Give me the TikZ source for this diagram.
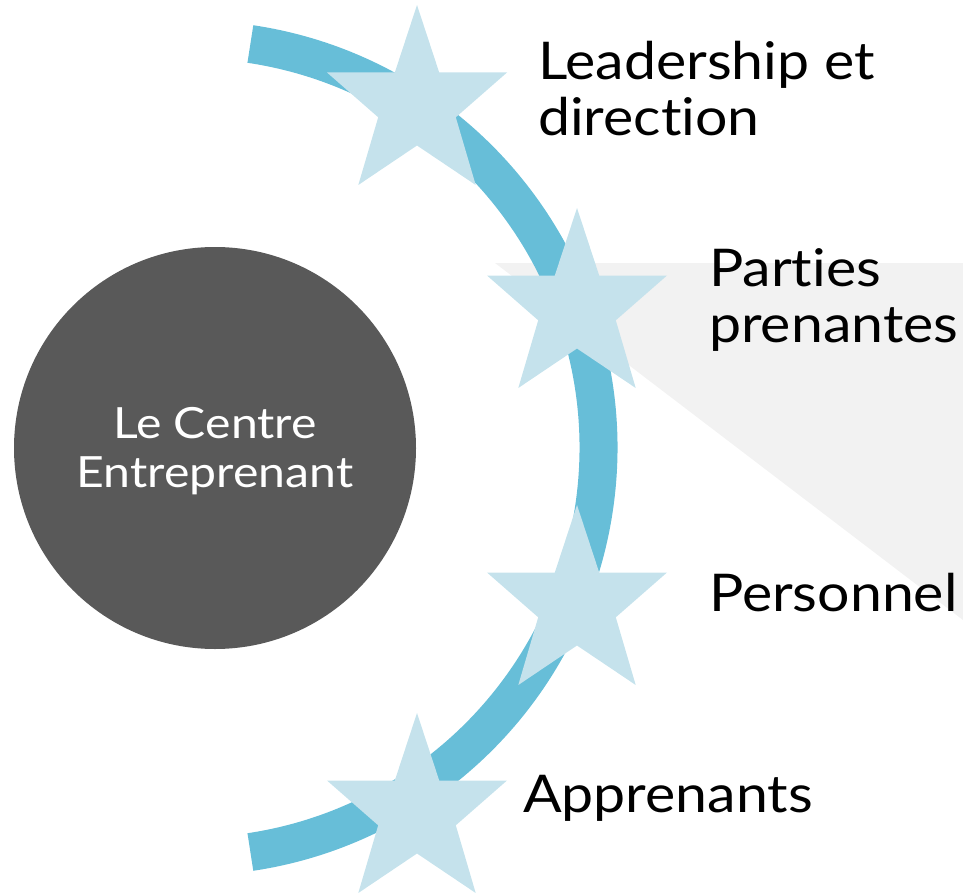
\documentclass[tikz,border=0pt]{standalone}
\usepackage{fontspec}
\setmainfont{Lato}[Ligatures={NoCommon,NoContextual}]
\newfontfamily\lblfont{Lato}[FakeStretch=1.1, Ligatures={NoCommon,NoContextual}]
\newfontfamily\hubfont{Lato}[FakeStretch=1.12, Ligatures={NoCommon,NoContextual}]
\definecolor{arcblue}{HTML}{67BED8}
\definecolor{starblue}{HTML}{C5E2EC}
\definecolor{hubgray}{HTML}{595959}
\definecolor{bggray}{HTML}{F2F2F2}
\tikzset{
  pics/bigstar/.style={code={
    \fill[starblue] (0,-99.5) -- (22.2,-32) -- (90,-32) -- (38.8,12.8) -- (58.7,80.5)
      -- (0,41) -- (-58.7,80.5) -- (-38.8,12.8) -- (-90,-32) -- (-22.2,-32) -- cycle;
  }},
  lbl/.style={anchor=base west, inner sep=0pt, text=black, font=\lblfont\fontsize{52}{56}\selectfont},
  hubtxt/.style={anchor=base, inner sep=0pt, text=white, font=\hubfont\fontsize{43}{48}\selectfont},
  arcband/.style={draw=arcblue, line width=38pt}
}
\begin{document}
\begin{tikzpicture}[x=1pt,y=-1pt]
\useasboundingbox (0,0) rectangle (963,896);
\fill[bggray] (495,263) -- (963,263) -- (963,620) -- cycle;
\coordinate (c) at (190,448);
\draw[arcband] (c) ++(-81.5:408.5) arc[start angle=-81.5, end angle=81.5, radius=408.5];
\coordinate (s1) at (417,104.5);
\coordinate (s2) at (577,307.5);
\coordinate (s3) at (577,604.5);
\coordinate (s4) at (417,812.5);
\pic at (s1) {bigstar};
\pic at (s2) {bigstar};
\pic at (s3) {bigstar};
\pic at (s4) {bigstar};
\node[circle, fill=hubgray, minimum size=402pt, inner sep=0pt] (hub) at (215,448) {};
\node[hubtxt] (h1) at (215,438) {Le Centre};
\node[hubtxt] (h2) at (215,487) {Entreprenant};
\node[lbl] (t1a) at (538,80) {Leadership et};
\node[lbl] (t1b) at (538,136) {direction};
\node[lbl] (t2a) at (709,286) {Parties};
\node[lbl] (t2b) at (709,342) {prenantes};
\node[lbl] (t3) at (709,611) {Personnel};
\node[lbl] (t4) at (523,812) {Apprenants};
\end{tikzpicture}
\end{document}
